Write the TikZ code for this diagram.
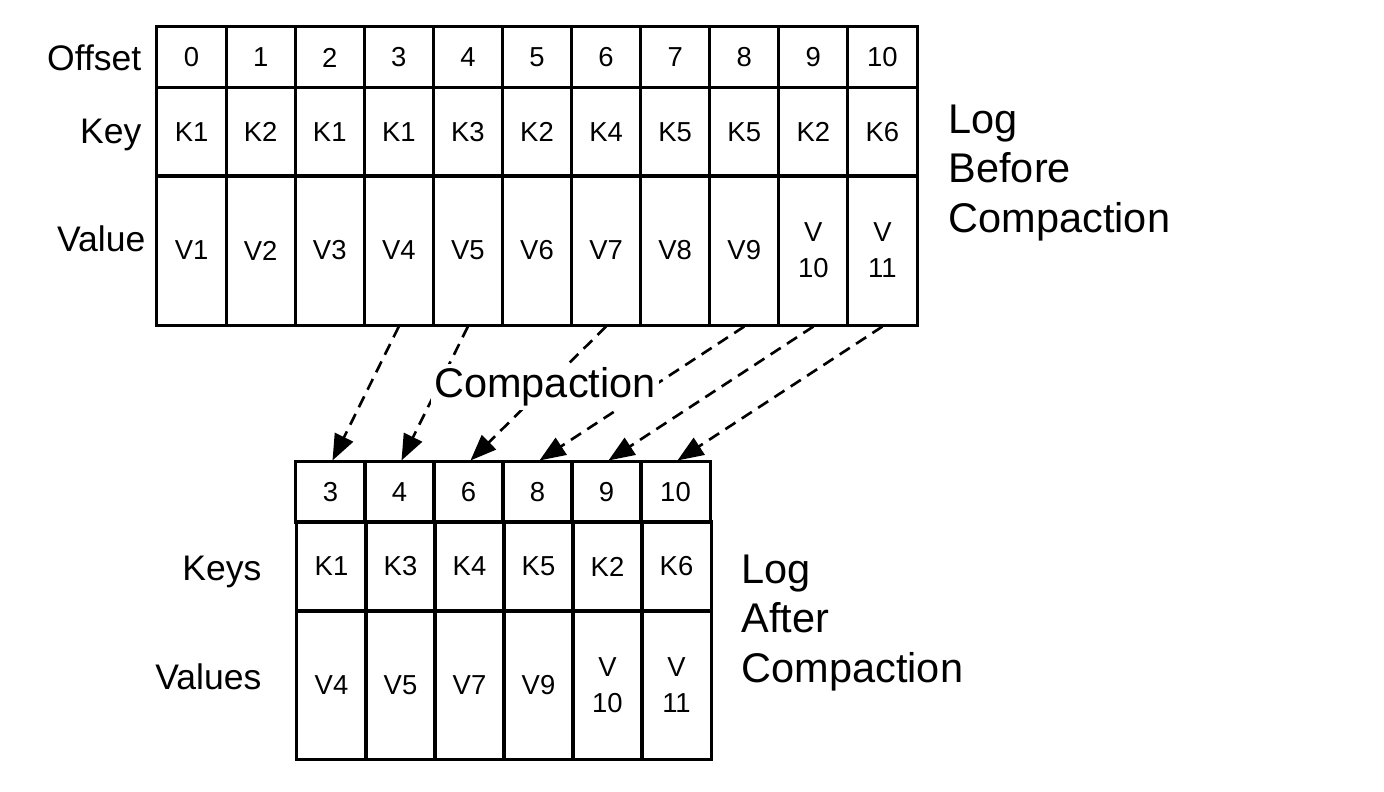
\documentclass[tikz,border=0pt]{standalone}
\usepackage{fontspec}
\setmainfont{Liberation Sans}
\usepackage{tikz}
\usetikzlibrary{arrows.meta}
\usetikzlibrary{positioning}

\tikzset{
  cell/.style={draw, line width=0.85pt, inner sep=0pt, minimum width=0.691cm, align=center, font=\fontsize{7.8}{10.2}\selectfont},
  rowlabel/.style={anchor=east, inner sep=0pt, font=\fontsize{10.1}{12}\selectfont},
  biglabel/.style={anchor=west, inner sep=0pt, align=left, font=\fontsize{11.8}{14.2}\selectfont},
  movearrow/.style={line width=0.75pt, dash pattern=on 0.12cm off 0.075cm, -{Triangle[length=0.26cm, width=0.2cm]}}
}

\begin{document}
\begin{tikzpicture}[x=0.01cm, y=-0.01cm]
    \useasboundingbox (0,0) rectangle (1384,792);

    % log before compaction
    \foreach \i/\k/\v in {0/K1/V1, 1/K2/V2, 2/K1/V3, 3/K1/V4, 4/K3/V5, 5/K2/V6, 6/K4/V7, 7/K5/V8, 8/K5/V9, 9/K2/{V\\10}, 10/K6/{V\\11}} {
        \node[cell, minimum height=0.61cm] (off\i) at (157+69.09*\i+34.55, 57.5) {\i};
        \node[cell, minimum height=0.88cm] (key\i) at (157+69.09*\i+34.55, 132) {\k};
        \node[cell, minimum height=1.49cm] (val\i) at (157+69.09*\i+34.55, 250.5) {\v};
    }
    \node[rowlabel] (offlabel) at (142,58) {Offset};
    \node[rowlabel] (keylabel) at (142,135) {Key};
    \node[rowlabel] (vallabel) at (146,239) {Value};
    \node[biglabel] (before) at (948,173) {Log\\Before\\Compaction};

    % log after compaction
    \foreach \j/\o/\k/\v in {1/3/K1/V4, 2/4/K3/V5, 3/6/K4/V7, 4/8/K5/V9, 5/9/K2/{V\\10}, 6/10/K6/{V\\11}} {
        \node[cell, minimum height=0.60cm, minimum width=0.69cm] (noff\j) at (296+69*\j-34.5, 492) {\o};
        \node[cell, minimum height=0.89cm, minimum width=0.69cm] (nkey\j) at (297+69*\j-34.5, 566.5) {\k};
        \node[cell, minimum height=1.48cm, minimum width=0.69cm] (nval\j) at (297+69*\j-34.5, 685) {\v};
    }
    \node[rowlabel] (keyslabel) at (262,572) {Keys};
    \node[rowlabel] (valslabel) at (262,677) {Values};
    \node[biglabel] (after) at (741,623) {Log\\After\\Compaction};

    % compaction arrows
    \foreach \s/\t in {3/1, 4/2, 6/3, 8/4, 9/5, 10/6} {
        \draw[movearrow] (val\s.south) -- ([xshift=0.02cm]noff\t.north);
    }
    \node[fill=white, inner sep=1pt, font=\fontsize{11.8}{14.2}\selectfont] (compaction) at (545,387) {Compaction};
\end{tikzpicture}
\end{document}
